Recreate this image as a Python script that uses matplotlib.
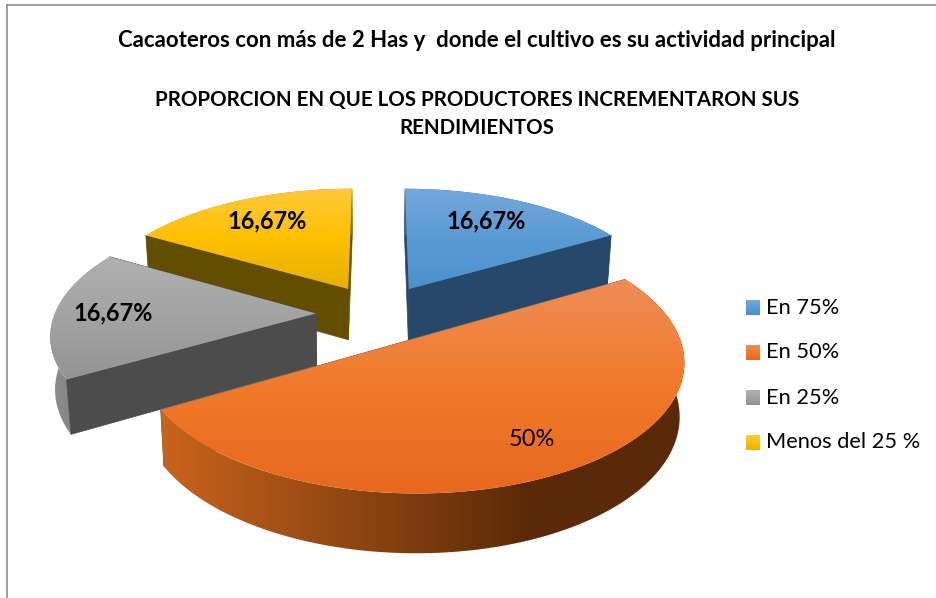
import numpy as np
from matplotlib import pyplot as plt
from matplotlib.colors import LinearSegmentedColormap
from matplotlib.patches import Polygon

plt.rcParams["font.family"] = ["Lato", "DejaVu Sans"]

# Data
categorias = ["En 75%", "En 50%", "En 25%", "Menos del 25 %"]
valores = [16.67, 50, 16.67, 16.67]
etiquetas = ["16,67%", "50%", "16,67%", "16,67%"]
titulo1 = "Cacaoteros con más de 2 Has y  donde el cultivo es su actividad principal"
titulo2 = "PROPORCION EN QUE LOS PRODUCTORES INCREMENTARON SUS\nRENDIMIENTOS"

# Colours of each slice: top face gradient, flat wall, outer wall left/right
caras = [["#74a8da", "#5b9bd5", "#4a8fcc"],
         ["#ee8d58", "#f17a2a", "#e7681e"],
         ["#b0b0b0", "#a3a3a3", "#939393"],
         ["#ffca3c", "#ffc000", "#e4b000"]]
paredes = ["#26486b", "#8a4a14", "#4c4c4c", "#634e00"]
lados = [["#3a6d9c", "#2c5378"], ["#c9641c", "#5a2a08"], ["#8e8e8e", "#757575"], ["#c9a000", "#8a7000"]]

# Projection of the tilted pie
cx, cy = 378.5, 313.5
A, B, k = 261, 122, 0.15
depth = 52
sep = 0.24


def proj(X, Y, abajo=False):
    w = 1 + k*Y
    u = A*X/w
    v = B*Y/w
    if abajo:
        return cx - 8 + (u + 8)*0.985, cy - v + depth/w**0.7
    return cx + u, cy - v


def relleno(pts, colores, vertical, zorder, corte=None):
    # gradient image clipped to a polygon
    pts = np.array(pts)
    x0, x1, y0, y1 = pts[:, 0].min()-2, pts[:, 0].max()+2, pts[:, 1].min()-2, pts[:, 1].max()+2
    cmap = LinearSegmentedColormap.from_list("g", colores)
    grad = np.linspace(0, 1, 256).reshape(-1, 1)
    if not vertical:
        grad = grad.T
        if corte is not None:
            # colour stops being darker past this x
            grad = np.clip((np.linspace(x0, x1, 256) - x0)/(corte - x0), 0, 1).reshape(1, -1)
    im = ax.imshow(grad, cmap=cmap, aspect="auto", zorder=zorder, extent=[x0, x1, y1, y0], vmin=0, vmax=1)
    im.set_clip_path(Polygon(pts, closed=True, transform=ax.transData))


fig = plt.figure(figsize=(9.36, 5.98), dpi=100)
ax = fig.add_axes([0, 0, 1, 1])

total = sum(valores)
fin = np.cumsum(valores)/total*2*np.pi
inicio = np.r_[0, fin[:-1]]

# far slices first
orden = [0, 3, 2, 1]
for z, i in enumerate(orden):
    mitad = (inicio[i] + fin[i])/2
    ox, oy = sep*np.sin(mitad), sep*np.cos(mitad)
    t = np.linspace(inicio[i], fin[i], 120)
    X = ox + np.sin(t)
    Y = oy + np.cos(t)
    xa, ya = proj(X, Y)
    xb, yb = proj(X, Y, True)
    x0, y0 = proj(ox, oy)
    x1, y1 = proj(ox, oy, True)

    # cut walls: back ones go under the outer wall, front ones over it
    frente = [np.sin(inicio[i]) < -1e-6, np.sin(fin[i]) > 1e-6]
    for j, f in zip([0, -1], frente):
        pts = [(x0, y0), (xa[j], ya[j]), (xb[j], yb[j]), (x1, y1)]
        ax.add_patch(Polygon(pts, facecolor=paredes[i], edgecolor=paredes[i], linewidth=0.5,
                             zorder=z*10 + (3 if f else 1)))

    # outer wall
    pared = np.r_[np.c_[xa, ya], np.c_[xb, yb][::-1]]
    relleno(pared, lados[i], False, z*10+2, 528 if i == 1 else None)

    # top face
    relleno(np.r_[[[x0, y0]], np.c_[xa, ya]], caras[i], True, z*10+5)

# Labels
pos_etq = [(486, 221), (532, 439), (113, 313), (267, 221)]
for i in range(len(etiquetas)):
    peso = "normal" if valores[i] == 50 else "bold"
    ax.text(pos_etq[i][0], pos_etq[i][1], etiquetas[i], fontsize=17, fontweight=peso, color="black",
            ha="center", va="center", zorder=100)

# Legend
for i in range(len(categorias)):
    y = 300 + 45*i
    cmap = LinearSegmentedColormap.from_list("ley", caras[i])
    ax.imshow(np.linspace(0, 1, 32).reshape(-1, 1), cmap=cmap, aspect="auto", extent=[746, 760, y+15, y], zorder=100)
    ax.text(766, y+7.5, categorias[i], fontsize=15.7, color="black", ha="left", va="center", zorder=100)

# Titles
ax.text(477, 40.5, titulo1, fontsize=16, fontweight="bold", ha="center", va="center")
ax.text(477, 114, titulo2, fontsize=14.8, fontweight="bold", ha="center", va="center", linespacing=1.5)

# Chart area border
ax.plot([7, 7], [598, 4.5], color="#8c8c8c", linewidth=1.2, zorder=100)
ax.plot([7, 936], [4.5, 4.5], color="#8c8c8c", linewidth=1.2, zorder=100)

ax.set_xlim(0, 936)
ax.set_ylim(598, 0)
ax.axis("off")
fig.savefig("out.png", dpi=100, facecolor="white")
